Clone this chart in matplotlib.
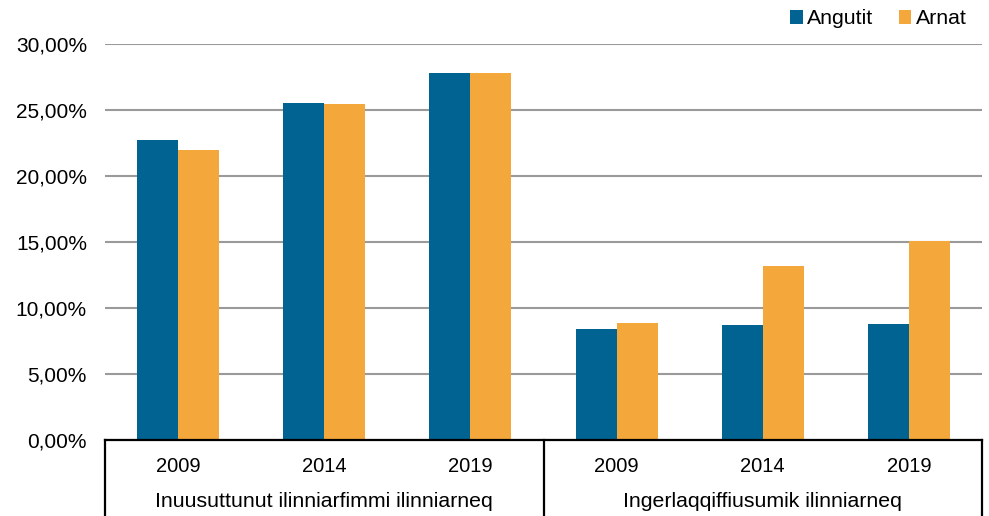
import matplotlib
matplotlib.use("Agg")
import matplotlib.pyplot as plt
from matplotlib.patches import Patch
from matplotlib.ticker import FuncFormatter
import numpy as np

plt.rcParams['font.family'] = ['Liberation Sans', 'DejaVu Sans']

groups = ["Inuusuttunut ilinniarfimmi ilinniarneq", "Ingerlaqqiffiusumik ilinniarneq"]
years = ["2009", "2014", "2019", "2009", "2014", "2019"]
series_names = ["Angutit", "Arnat"]
angutit = [22.67, 25.47, 27.74, 8.35, 8.67, 8.73]
arnat = [21.93, 25.42, 27.74, 8.85, 13.14, 15.04]
colors = ["#006391", "#F4A73A"]

fig = plt.figure(figsize=(9.89, 5.16), dpi=100)
ax = fig.add_axes([105/989, 1 - 439.5/516, 877/989, 396/516])

x = np.arange(len(years))
w = 0.28
ax.bar(x - w/2, angutit, w, color=colors[0], zorder=3, label=series_names[0])
ax.bar(x + w/2, arnat, w, color=colors[1], zorder=3, label=series_names[1])

ax.set_xlim(-0.5, len(years) - 0.5)
ax.set_ylim(0, 30)
ax.set_yticks(np.arange(0, 30.1, 5))
ax.yaxis.set_major_formatter(FuncFormatter(lambda v, p: f"{v:.2f}".replace(".", ",") + "%"))
ax.tick_params(axis='y', length=0, pad=13, labelsize=15)
ax.set_xticks([])
ax.grid(axis='y', color='#9A9A9A', linewidth=1.5, zorder=0)
for s in ['top', 'right', 'left']:
    ax.spines[s].set_visible(False)
ax.spines['bottom'].set_linewidth(1.6)
ax.spines['bottom'].set_color('black')
ax.spines['bottom'].set_zorder(4)

# Category box below axis
trans = ax.get_xaxis_transform()
ybot = -80/396
for xv in [-0.5, 2.5, 5.5]:
    ax.plot([xv, xv], [0, ybot], transform=trans, color='black', lw=1.6, clip_on=False)

for xi, yr in zip(x, years):
    ax.text(xi, -27.5/396, yr, transform=trans, ha='center', va='center', fontsize=14.5)
for gi, g in enumerate(groups):
    ax.text(1 + 3*gi, -62/396, g, transform=trans, ha='center', va='center', fontsize=15.3)

handles = [Patch(facecolor=c, edgecolor='none') for c in colors]
fig.legend(handles, series_names, loc='center right', bbox_to_anchor=(975/989, 1 - 19/516),
           ncol=2, frameon=False, fontsize=15.3, handlelength=0.6, handleheight=0.6,
           handletextpad=0.2, columnspacing=1.2, borderaxespad=0)

fig.savefig("out.png", dpi=100)
